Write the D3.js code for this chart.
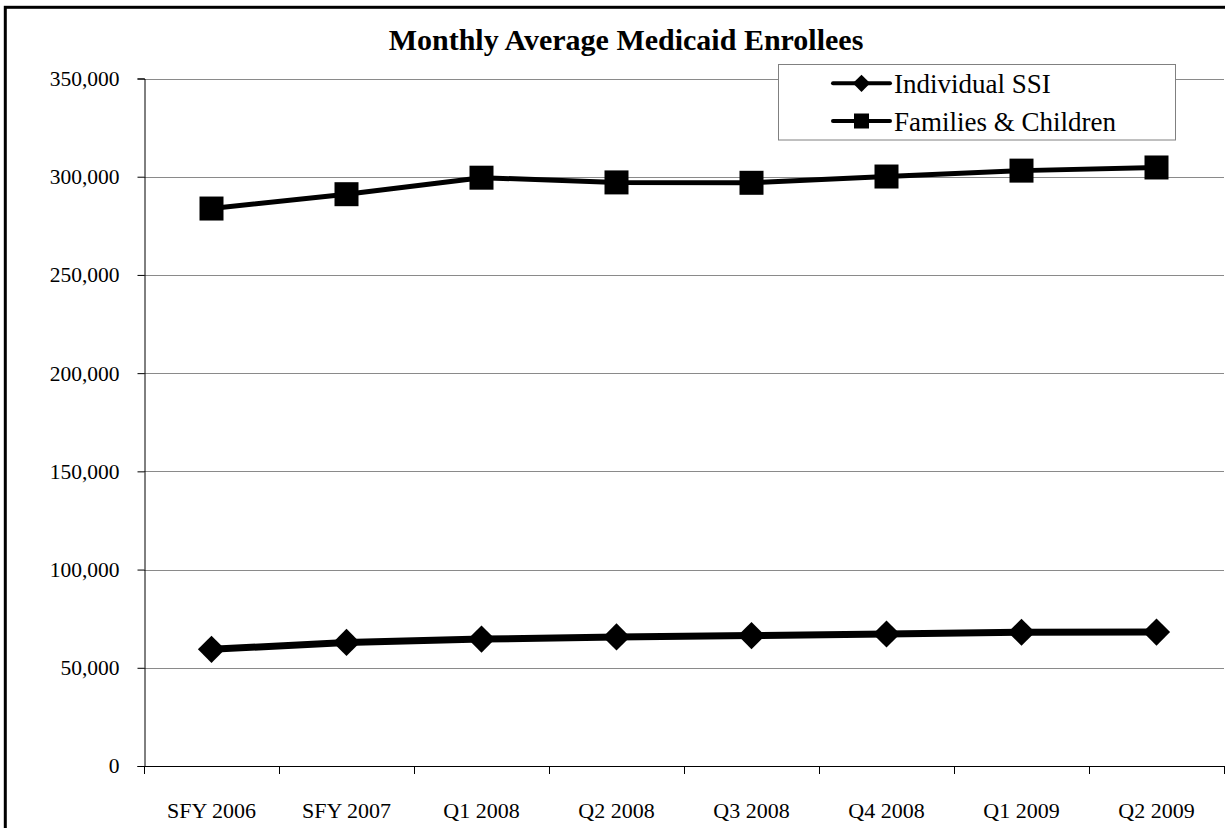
<!DOCTYPE html>
<html>
<head>
<meta charset="utf-8">
<script src="https://cdn.jsdelivr.net/npm/d3@7"></script>
<style>
  html, body { margin: 0; padding: 0; background: #fff; }
  svg { display: block; }
  svg text { font-family: "Liberation Serif", "Times New Roman", serif; }
</style>
</head>
<body>
<svg id="chart" width="1225" height="828"></svg>
<script>
// Monthly average Medicaid enrollees by period
const categories = ["SFY 2006", "SFY 2007", "Q1 2008", "Q2 2008", "Q3 2008", "Q4 2008", "Q1 2009", "Q2 2009"];
const individualSSI = [59400, 62900, 64600, 65700, 66400, 67200, 68100, 68200];
const familiesChildren = [283800, 291100, 299500, 297100, 296900, 300100, 303100, 304700];
const yTicks = [0, 50000, 100000, 150000, 200000, 250000, 300000, 350000];
const seriesNames = ["Individual SSI", "Families & Children"];

const SERIF = "'Liberation Serif', 'Times New Roman', serif";
const svg = d3.select("#chart");

const plot = { left: 144, right: 1224, top: 78.5, bottom: 766 };

const x = d3.scaleBand().domain(categories).range([plot.left, plot.right]).paddingInner(0).paddingOuter(0);
const y = d3.scaleLinear().domain([0, 350000]).range([plot.bottom, plot.top]);
const cx = c => x(c) + x.bandwidth() / 2;

// Outer frame
svg.append("rect")
  .attr("x", 5.3).attr("y", 7.3)
  .attr("width", 3000).attr("height", 3000)
  .attr("fill", "none").attr("stroke", "#000").attr("stroke-width", 3);

// Horizontal gridlines
svg.append("g").selectAll("line")
  .data(yTicks.filter(t => t > 0))
  .join("line")
  .attr("x1", plot.left).attr("x2", plot.right)
  .attr("y1", d => Math.round(y(d)) + 0.5).attr("y2", d => Math.round(y(d)) + 0.5)
  .attr("stroke", "#8a8a8a").attr("stroke-width", 1);

// Y axis
const yAxis = svg.append("g")
  .attr("transform", `translate(${plot.left + 0.5},0)`)
  .call(d3.axisLeft(y).tickValues(yTicks).tickFormat(d3.format(",")).tickSize(7).tickPadding(18));
yAxis.attr("font-family", null);
yAxis.select(".domain").attr("stroke", "#000");
yAxis.selectAll(".tick line").attr("stroke", "#000");
yAxis.selectAll("text")
  .style("font-family", SERIF)
  .style("font-size", "21.5px")
  .attr("fill", "#000");

// X axis line and tick marks at category boundaries
const xg = svg.append("g");
xg.append("line")
  .attr("x1", plot.left).attr("x2", plot.right)
  .attr("y1", plot.bottom + 0.5).attr("y2", plot.bottom + 0.5)
  .attr("stroke", "#000");
const boundaries = categories.map(c => x(c)).concat([x.range()[1]]);
xg.selectAll("line.tick")
  .data(boundaries)
  .join("line")
  .attr("class", "tick")
  .attr("x1", d => Math.round(d) + 0.5).attr("x2", d => Math.round(d) + 0.5)
  .attr("y1", plot.bottom).attr("y2", plot.bottom + 8)
  .attr("stroke", "#000");
xg.selectAll("text")
  .data(categories)
  .join("text")
  .attr("x", d => cx(d))
  .attr("y", 818)
  .attr("text-anchor", "middle")
  .style("font-family", SERIF)
  .style("font-size", "22px")
  .attr("fill", "#000")
  .text(d => d);

// Lines
const line = d3.line().x(d => cx(d.cat)).y(d => y(d.value));
const ssiData = categories.map((c, i) => ({ cat: c, value: individualSSI[i] }));
const famData = categories.map((c, i) => ({ cat: c, value: familiesChildren[i] }));

svg.append("path").datum(ssiData)
  .attr("d", line).attr("fill", "none").attr("stroke", "#000")
  .attr("stroke-width", 7).attr("stroke-linejoin", "round");
svg.append("path").datum(famData)
  .attr("d", line).attr("fill", "none").attr("stroke", "#000")
  .attr("stroke-width", 5).attr("stroke-linejoin", "round");

// Markers
const diamond = d3.symbol(d3.symbolSquare, 370);
const square = d3.symbol(d3.symbolSquare, 576);

svg.append("g").selectAll("path")
  .data(ssiData).join("path")
  .attr("d", diamond)
  .attr("transform", d => `translate(${cx(d.cat)},${y(d.value)}) rotate(45)`)
  .attr("fill", "#000");

svg.append("g").selectAll("path")
  .data(famData).join("path")
  .attr("d", square)
  .attr("transform", d => `translate(${cx(d.cat)},${y(d.value)})`)
  .attr("fill", "#000");

// Title
svg.append("text")
  .attr("x", 626).attr("y", 50)
  .attr("text-anchor", "middle")
  .style("font-family", SERIF)
  .style("font-size", "30px").style("font-weight", "bold")
  .attr("fill", "#000")
  .text("Monthly Average Medicaid Enrollees");

// Legend
const legend = svg.append("g");
legend.append("rect")
  .attr("x", 778.5).attr("y", 64.5)
  .attr("width", 397).attr("height", 75.5)
  .attr("fill", "#fff").attr("stroke", "#808080").attr("stroke-width", 1);

const legendRows = [
  { name: seriesNames[0], sym: d3.symbol(d3.symbolSquare, 150), rot: 45, ly: 83.3, ty: 93.3 },
  { name: seriesNames[1], sym: d3.symbol(d3.symbolSquare, 225), rot: 0, ly: 121, ty: 130.7 }
];
legendRows.forEach(r => {
  legend.append("line")
    .attr("x1", 833).attr("x2", 890)
    .attr("y1", r.ly).attr("y2", r.ly)
    .attr("stroke", "#000").attr("stroke-width", 4).attr("stroke-linecap", "round");
  legend.append("path")
    .attr("d", r.sym)
    .attr("transform", `translate(861.5,${r.ly}) rotate(${r.rot})`)
    .attr("fill", "#000");
  legend.append("text")
    .attr("x", 894).attr("y", r.ty)
    .style("font-family", SERIF)
    .style("font-size", "27px")
    .attr("fill", "#000")
    .text(r.name);
});
</script>
</body>
</html>
